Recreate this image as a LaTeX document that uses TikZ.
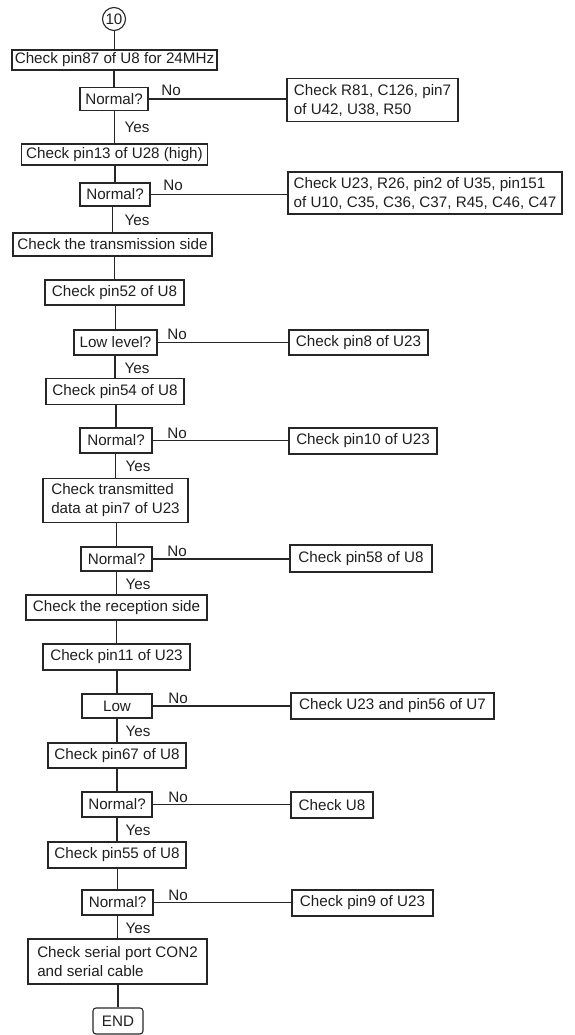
\documentclass[tikz,border=0pt]{standalone}
\usepackage{fontspec}
\setmainfont{Liberation Sans}
\begin{document}
\begin{tikzpicture}[x=1pt,y=-1pt,
  every node/.style={font=\fontsize{15.2}{19}\selectfont, text=black!88},
  box/.style={draw=black!85, line width=1.1pt, inner sep=1.5pt, align=left},
  lbl/.style={inner sep=0pt},
  conn/.style={draw=black!85, line width=1.1pt}]
\useasboundingbox (0,0) rectangle (574,1035);

% main column
\node[draw=black!85, circle, line width=1.1pt, minimum size=23pt, inner sep=0pt] (c10) at (114,19) {10};
\node[box, minimum width=205pt, minimum height=20pt] (b1) at (114.5,60) {Check pin87 of U8 for 24MHz};
\node[box, minimum width=68pt, minimum height=23pt] (d1) at (114,99) {Normal?};
\node[box, minimum width=186pt, minimum height=21pt] (b2) at (114.5,154.5) {Check pin13 of U28 (high)};
\node[box, minimum width=70pt, minimum height=23pt] (d2) at (115,194.5) {Normal?};
\node[box, minimum width=199pt, minimum height=23pt] (b3) at (112.5,244.5) {Check the transmission side};
\node[box, minimum width=139pt, minimum height=25pt] (b4) at (114.5,292.5) {Check pin52 of U8};
\node[box, minimum width=83pt, minimum height=25pt] (d3) at (115.5,342.5) {Low level?};
\node[box, minimum width=138pt, minimum height=26pt] (b5) at (115,391.5) {Check pin54 of U8};
\node[box, minimum width=72pt, minimum height=25pt] (d4) at (116,440.5) {Normal?};
\node[box, minimum width=145pt, minimum height=44pt] (b6) at (115.5,500.5) {Check transmitted\\data at pin7 of U23};
\node[box, minimum width=71pt, minimum height=24pt] (d5) at (116.5,559) {Normal?};
\node[box, minimum width=181pt, minimum height=25pt] (b7) at (116.5,607.5) {Check the reception side};
\node[box, minimum width=147pt, minimum height=26pt] (b8) at (116.5,657) {Check pin11 of U23};
\node[box, minimum width=70pt, minimum height=24pt] (d6) at (117,706) {Low};
\node[box, minimum width=138pt, minimum height=25pt] (b9) at (117,755.5) {Check pin67 of U8};
\node[box, minimum width=70pt, minimum height=25pt] (d7) at (117,804.5) {Normal?};
\node[box, minimum width=138pt, minimum height=26pt] (b10) at (117,855) {Check pin55 of U8};
\node[box, minimum width=71pt, minimum height=25pt] (d8) at (117.5,902.5) {Normal?};
\node[box, minimum width=179pt, minimum height=45pt] (b11) at (117.5,961.5) {Check serial port CON2\\and serial cable};
\node[box, rounded corners=3pt, minimum width=50pt, minimum height=26pt] (end) at (118,1021) {END};

% right column
\node[box, minimum width=171pt, minimum height=43pt] (r1) at (372.5,100) {Check R81, C126, pin7\\of U42, U38, R50};
\node[box, minimum width=274pt, minimum height=42pt] (r2) at (425,193) {Check U23, R26, pin2 of U35, pin151\\of U10, C35, C36, C37, R45, C46, C47};
\node[box, minimum width=139pt, minimum height=25pt] (r3) at (358.5,342.5) {Check pin8 of U23};
\node[box, minimum width=148pt, minimum height=26pt] (r4) at (363,441) {Check pin10 of U23};
\node[box, minimum width=142pt, minimum height=27pt] (r5) at (361,558.5) {Check pin58 of U8};
\node[box, minimum width=203pt, minimum height=26pt] (r6) at (392.5,706) {Check U23 and pin56 of U7};
\node[box, minimum width=82pt, minimum height=26pt] (r7) at (332,805) {Check U8};
\node[box, minimum width=141pt, minimum height=26pt] (r8) at (362.5,903) {Check pin9 of U23};

% labels
\node[lbl] (n1) at (171,90) {No};
\node[lbl] (n2) at (173,185) {No};
\node[lbl] (n3) at (177,334) {No};
\node[lbl] (n4) at (177,433) {No};
\node[lbl] (n5) at (177,551) {No};
\node[lbl] (n6) at (178,698) {No};
\node[lbl] (n7) at (178,797) {No};
\node[lbl] (n8) at (178,895) {No};
\node[lbl] (y1) at (137,127) {Yes};
\node[lbl] (y2) at (137,220) {Yes};
\node[lbl] (y3) at (137,368) {Yes};
\node[lbl] (y4) at (138,466) {Yes};
\node[lbl] (y5) at (138,584) {Yes};
\node[lbl] (y6) at (138,731) {Yes};
\node[lbl] (y7) at (138,830) {Yes};
\node[lbl] (y8) at (138,928) {Yes};

% trunk connectors
\foreach \a/\b in {c10/b1,b1/d1,d1/b2,b2/d2,d2/b3,b3/b4,b4/d3,d3/b5,b5/d4,d4/b6,b6/d5,d5/b7,b7/b8,b8/d6,d6/b9,b9/d7,d7/b10,b10/d8,d8/b11,b11/end}
  \draw[conn] (\a.south -| \b.north) -- (\b.north);

% No branches
\foreach \d/\r in {d1/r1,d2/r2,d3/r3,d4/r4,d5/r5,d6/r6,d7/r7,d8/r8}
  \draw[conn] (\d.east) -- (\d.east -| \r.west);
\end{tikzpicture}
\end{document}
